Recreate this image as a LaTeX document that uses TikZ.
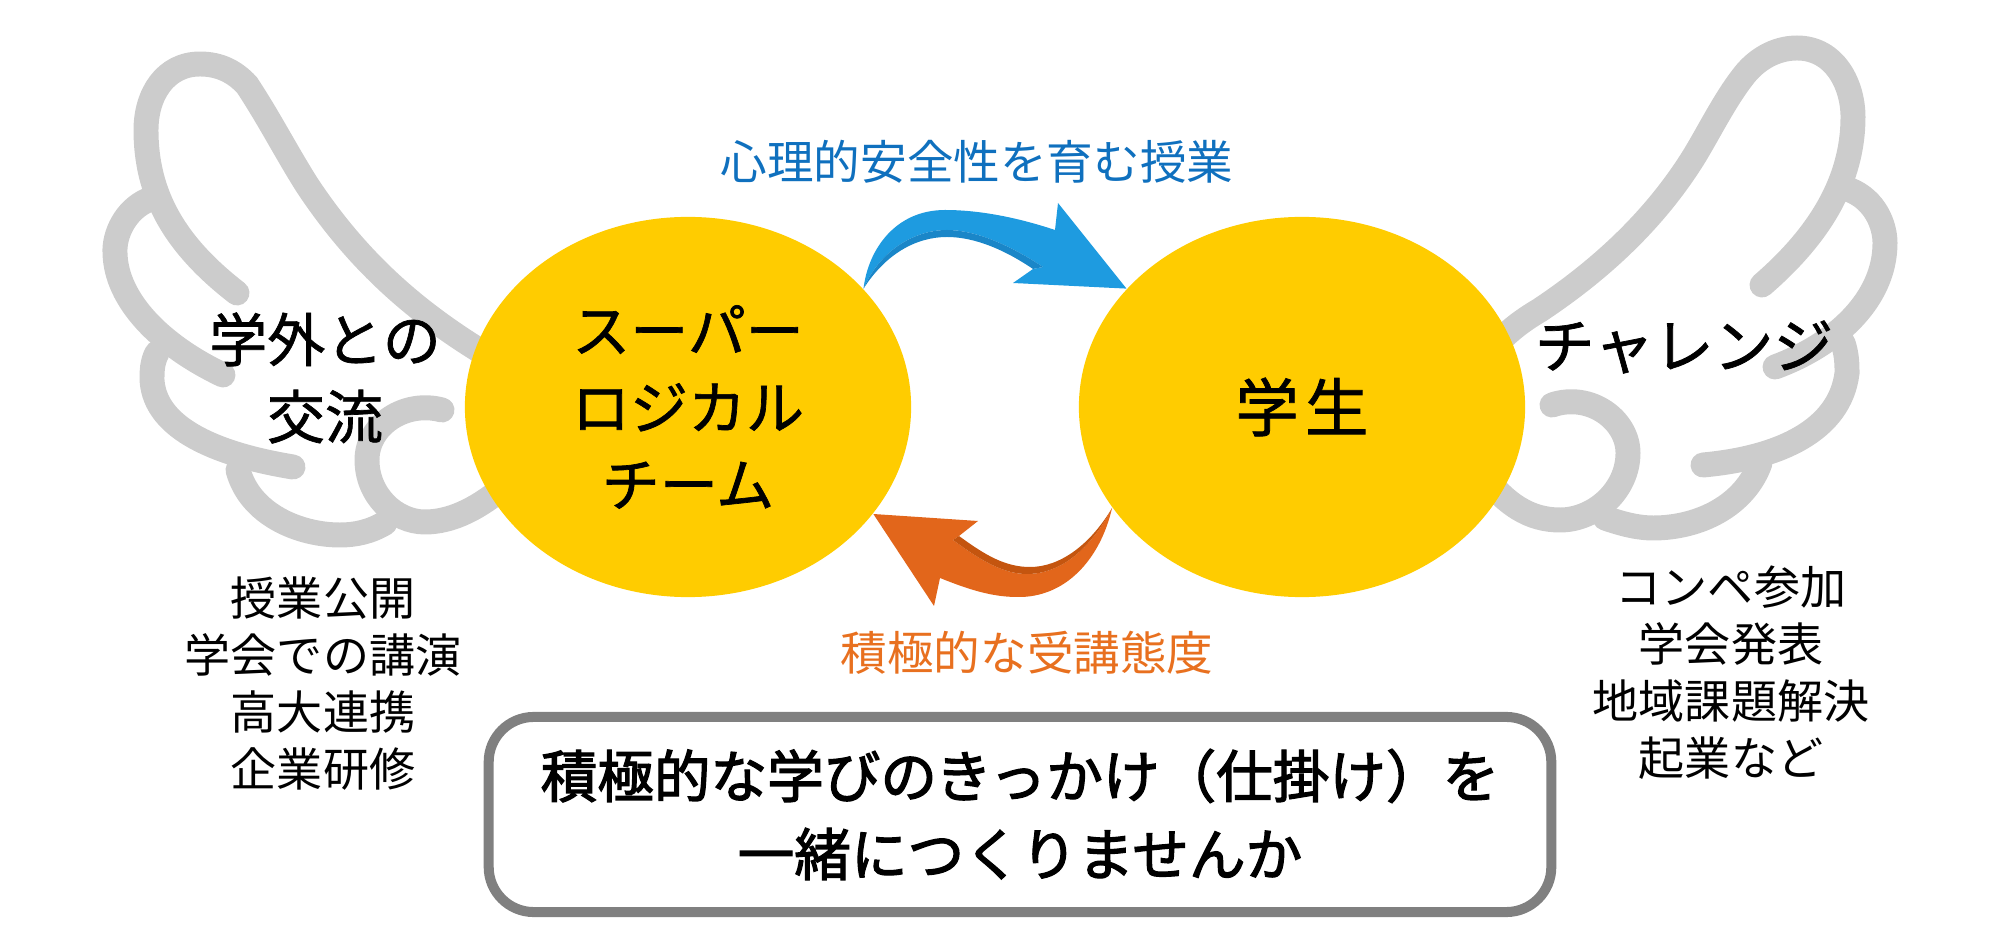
\documentclass[tikz,border=0pt]{standalone}
\usepackage{fontspec}
\usepackage{tikz}
\usetikzlibrary{positioning}
\usetikzlibrary{shapes.geometric}
\setmainfont{Noto Sans CJK JP}
\newfontfamily\jpheavy[FakeBold=2.2]{Noto Sans CJK JP}
\newfontfamily\jpmid[FakeBold=1.2]{Noto Sans CJK JP}
\newfontfamily\jpwide[FakeBold=1.2,LetterSpace=10]{Noto Sans CJK JP}
\definecolor{wingline}{HTML}{CCCCCC}
\definecolor{sungold}{HTML}{FFCC00}
\definecolor{bluemain}{HTML}{1E9BE0}
\definecolor{bluedark}{HTML}{1A86C8}
\definecolor{bluetext}{HTML}{0F70BE}
\definecolor{orangemain}{HTML}{E2661B}
\definecolor{orangedark}{HTML}{C4550F}
\definecolor{orangetext}{HTML}{E8701F}
\definecolor{boxline}{HTML}{808080}
\tikzset{
	feather/.style={draw=wingline, line width=7.1pt, line cap=round},
	actor/.style={ellipse, fill=sungold, inner sep=0pt, minimum width=4.46cm, minimum height=3.8cm, align=center, font=\jpmid\fontsize{16.5pt}{21.9pt}\selectfont},
	headlabel/.style={align=center, inner sep=0pt, font=\jpmid\fontsize{16.5pt}{21.9pt}\selectfont},
	itemlist/.style={align=center, inner sep=0pt, font=\fontsize{13.1pt}{16.2pt}\selectfont},
	flowlabel/.style={inner sep=0pt, font=\fontsize{13.25pt}{16pt}\selectfont},
}
\begin{document}
\begin{tikzpicture}[x=0.01cm, y=-0.01cm]
	\useasboundingbox (0,0) rectangle (2000,931);
	% left wing
	\draw[feather] (490,357) .. controls (420,315) and (360,265) .. (307,185) .. controls (285,150) and (270,120) .. (247,85) .. controls (235,72) and (220,64) .. (200,64) .. controls (165,64) and (146,95) .. (146,130) .. controls (146,195) and (175,245) .. (237,293);
	\draw[feather] (148,200) .. controls (125,210) and (114,235) .. (115,253) .. controls (116,300) and (160,345) .. (223,375);
	\draw[feather] (157,353) .. controls (152,362) and (152,372) .. (152,380) .. controls (155,430) and (220,455) .. (293,467);
	\draw[feather] (238,470) .. controls (250,515) and (300,535) .. (340,535) .. controls (355,535) and (370,532) .. (385,523);
	\draw[feather] (442,410) .. controls (405,400) and (367,425) .. (367,460) .. controls (367,495) and (395,522) .. (425,522) .. controls (450,522) and (475,510) .. (500,490);
	% right wing
	\draw[feather] (1490,350) .. controls (1510,330) and (1520,322) .. (1540,310) .. controls (1600,270) and (1655,220) .. (1695,155) .. controls (1710,130) and (1725,100) .. (1742,78) .. controls (1755,60) and (1775,48) .. (1797,48) .. controls (1835,48) and (1853,85) .. (1853,117) .. controls (1853,180) and (1820,235) .. (1762,285);
	\draw[feather] (1850,190) .. controls (1875,200) and (1885,225) .. (1885,243) .. controls (1885,300) and (1835,345) .. (1775,367);
	\draw[feather] (1843,343) .. controls (1847,355) and (1847,365) .. (1847,373) .. controls (1840,430) and (1780,458) .. (1703,465);
	\draw[feather] (1760,463) .. controls (1745,505) and (1700,528) .. (1653,528) .. controls (1640,528) and (1625,525) .. (1605,518);
	\draw[feather] (1552,405) .. controls (1590,392) and (1628,420) .. (1628,453) .. controls (1628,490) and (1595,520) .. (1560,520) .. controls (1530,520) and (1505,505) .. (1480,470);
	% actors
	\node[actor] (team) at (688,407) {スーパー\\ロジカル\\チーム};
	\node[actor, font=\jpwide\fontsize{18pt}{22pt}\selectfont] (student) at (1302,407) {学生};
	\coordinate (bluetail) at (team.34);
	\coordinate (bluetip) at (student.146);
	\coordinate (orangetail) at (student.208);
	\coordinate (orangetip) at (team.330);
	% arrows
	\fill[bluemain] (bluetail) .. controls (868,250) and (895,210) .. (945,210) .. controls (985,210) and (1025,220) .. (1055,230) -- (1058,203) -- (bluetip) -- (1013,283) -- (1033,269) -- (1043,267) .. controls (1010,245) and (975,230) .. (947,230) .. controls (915,230) and (880,250) .. (bluetail);
	\fill[bluedark] (bluetail) .. controls (880,250) and (915,230) .. (947,230) .. controls (975,230) and (1010,245) .. (1043,267) -- (1033,269) .. controls (1005,250) and (975,237) .. (947,237) .. controls (915,237) and (885,255) .. (bluetail);
	\fill[orangemain] (orangetail) .. controls (1100,560) and (1065,598) .. (1017,597) .. controls (990,597) and (965,588) .. (940,578) -- (934,606) -- (orangetip) -- (978,521) -- (959,536) -- (953,540) .. controls (980,560) and (1003,574) .. (1027,574) .. controls (1060,574) and (1090,550) .. (orangetail);
	\fill[orangedark] (orangetail) .. controls (1090,545) and (1060,567) .. (1030,567) .. controls (1005,567) and (985,555) .. (959,536) -- (953,540) .. controls (980,560) and (1003,574) .. (1027,574) .. controls (1060,574) and (1090,550) .. (orangetail);
	% labels
	\node[headlabel] (outside) at (325,378) {学外との\\交流};
	\node[headlabel, font=\jpmid\fontsize{17pt}{21.9pt}\selectfont] (challenge) at (1684,347) {チャレンジ};
	\node[itemlist] (outsideitems) at (323,684) {授業公開\\学会での講演\\高大連携\\企業研修};
	\node[itemlist] (challengeitems) at (1731,673) {コンペ参加\\学会発表\\地域課題解決\\起業など};
	\node[flowlabel, text=bluetext] (safelabel) at (977,162) {心理的安全性を育む授業};
	\node[flowlabel, text=orangetext] (activelabel) at (1027,653) {積極的な受講態度};
	\node[draw=boxline, line width=2.85pt, rounded corners=0.45cm, fill=white, minimum width=10.62cm, minimum height=1.95cm, inner sep=0pt, align=center, font=\jpheavy\fontsize{16.1pt}{22.2pt}\selectfont] (callout) at (1020,814.5) {積極的な学びのきっかけ（仕掛け）を\\一緒につくりませんか};
\end{tikzpicture}
\end{document}
